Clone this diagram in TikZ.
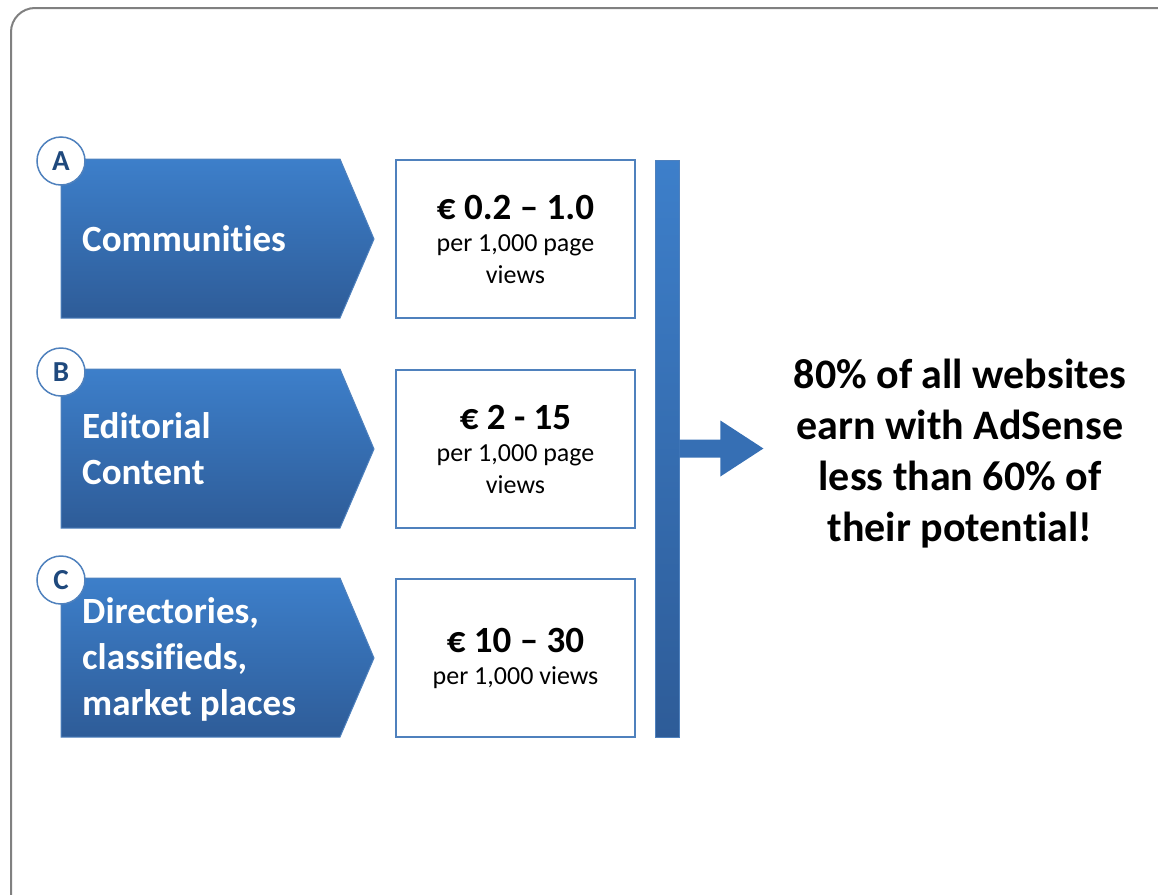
\documentclass[tikz,border=0pt]{standalone}
\usepackage{fontspec}
\setmainfont{Carlito}[Ligatures={TeX,CommonOff}]
\usetikzlibrary{positioning}
\definecolor{tabtop}{RGB}{61,127,202}
\definecolor{tabbottom}{RGB}{46,92,152}
\definecolor{tabline}{RGB}{79,129,189}
\definecolor{arrowblue}{RGB}{54,111,180}
\definecolor{letterblue}{RGB}{31,73,125}
\definecolor{framegray}{RGB}{128,128,128}
\newcommand{\pricefont}{\fontsize{37}{40}\selectfont\bfseries}
\begin{document}
\begin{tikzpicture}[
                x=1pt,y=-1pt,
                tab/.style={draw=tabline,line width=1pt,top color=tabtop,bottom color=tabbottom},
                tablabel/.style={anchor=west,inner sep=0pt,align=left,text=white,
                    font=\fontsize{37}{46}\selectfont\bfseries},
                badge/.style={circle,draw=tabline,line width=1.5pt,fill=white,minimum size=48pt,
                    inner sep=0pt,text=letterblue,font=\fontsize{29}{30}\selectfont\bfseries},
                pricebox/.style={draw=tabline,line width=1.5pt,fill=white,minimum width=239pt,
                    minimum height=158pt,align=center,font=\fontsize{26}{32}\selectfont},
                bar/.style={draw=tabline,line width=0.8pt,top color=tabtop,bottom color=tabbottom,
                    minimum width=24pt,minimum height=577pt,inner sep=0pt},
                summary/.style={align=center,font=\fontsize{42}{51}\selectfont\bfseries}
            ]
                \useasboundingbox (0,0) rectangle (1158,894);
                \begin{scope}
                    \clip (0,0) rectangle (1158,894);
                    \draw[framegray,line width=2pt,rounded corners=24pt] (11,8) rectangle (1200,940);
                \end{scope}

                \coordinate (rowA) at (61,159);
                \coordinate (rowB) at (61,369);
                \coordinate (rowC) at (61,578);

                % tabs
                \draw[tab] (rowA) -- ++(279,0) -- ++(34,80) -- ++(-34,79) -- ++(-279,0) -- cycle;
                \draw[tab] (rowB) -- ++(279,0) -- ++(34,80) -- ++(-34,79) -- ++(-279,0) -- cycle;
                \draw[tab] (rowC) -- ++(279,0) -- ++(34,80) -- ++(-34,79) -- ++(-279,0) -- cycle;

                \node[tablabel] (labelA) at ([shift={(21,80)}]rowA) {Communities};
                \node[tablabel] (labelB) at ([shift={(21,80)}]rowB) {Editorial\\Content};
                \node[tablabel] (labelC) at ([shift={(21,81)}]rowC) {Directories,\\classifieds,\\market places};

                \node[badge] (badgeA) at ([shift={(0,2)}]rowA) {A};
                \node[badge] (badgeB) at ([shift={(0,3)}]rowB) {B};
                \node[badge] (badgeC) at ([shift={(0,2)}]rowC) {C};

                % prices
                \node[pricebox] (priceA) at ([shift={(454.5,80)}]rowA)
                    {{\pricefont € 0.2 – 1.0}\\per 1,000 page\\views};
                \node[pricebox] (priceB) at ([shift={(454.5,80)}]rowB)
                    {{\pricefont € 2 - 15}\\per 1,000 page\\views};
                \node[pricebox] (priceC) at ([shift={(454.5,80)}]rowC)
                    {{\pricefont € 10 – 30}\\per 1,000 views};

                \node[bar] (bar) at (667,448.5) {};
                \node[summary] (result) at (960,454)
                    {80\% of all websites\\earn with AdSense\\less than 60\% of\\their potential!};

                \fill[arrowblue] (bar.east) ++(0,-9) -- ++(41,0) -- ++(0,-19) -- ++(43,28)
                    -- ++(-43,28) -- ++(0,-19) -- ++(-41,0) -- cycle;
            \end{tikzpicture}
\end{document}
